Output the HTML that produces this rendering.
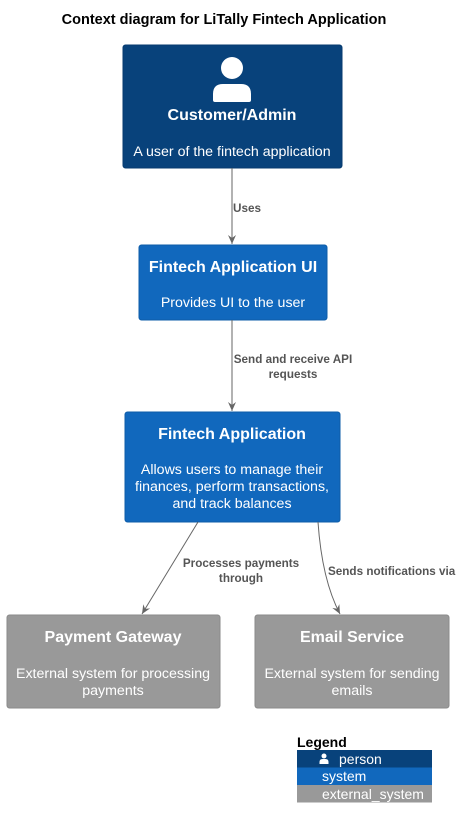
<!DOCTYPE html>
<html><head><meta charset="utf-8"><style>
html,body{margin:0;padding:0;background:#fff;}
svg{display:block;font-family:"Liberation Sans",Arial,sans-serif;}
</style></head><body>
<svg width="462" height="829" viewBox="0 0 462 829" xmlns="http://www.w3.org/2000/svg">
<defs><marker id="a" markerWidth="10" markerHeight="10" refX="9" refY="5" orient="auto" markerUnits="userSpaceOnUse"><path d="M0,1 L9,5 L0,9 L3,5 Z" fill="#666"/></marker></defs>
<text x="224" y="24" text-anchor="middle" font-size="14.5" font-weight="bold">Context diagram for LiTally Fintech Application</text>

<rect x="123" y="45" width="219" height="123" rx="2.5" fill="#08427B" stroke="#073B6F"/>
<circle cx="232" cy="68" r="11" fill="#fff"/>
<path d="M213,100 v-6 q0,-10 10,-10 h18 q10,0 10,10 v6 q0,2 -2,2 h-34 q-2,0 -2,-2z" fill="#fff"/>
<text x="232" y="120" text-anchor="middle" font-size="16" font-weight="bold" fill="#fff">Customer/Admin</text>
<text x="232" y="156" text-anchor="middle" font-size="14.2" fill="#fff">A user of the fintech application</text>

<line x1="232" y1="168" x2="232" y2="244" stroke="#666" marker-end="url(#a)"/>
<text x="233" y="212" font-size="11.7" font-weight="bold" fill="#555">Uses</text>

<rect x="139" y="245" width="188" height="75" rx="2.5" fill="#1168BD" stroke="#0E5CA8"/>
<text x="233" y="272" text-anchor="middle" font-size="16" font-weight="bold" fill="#fff">Fintech Application UI</text>
<text x="233" y="307" text-anchor="middle" font-size="14.2" fill="#fff">Provides UI to the user</text>

<line x1="232" y1="320" x2="232" y2="411" stroke="#666" marker-end="url(#a)"/>
<text x="293" y="363" text-anchor="middle" font-size="11.7" font-weight="bold" fill="#555">Send and receive API</text>
<text x="293" y="378" text-anchor="middle" font-size="11.7" font-weight="bold" fill="#555">requests</text>

<rect x="125" y="412" width="215" height="110" rx="2.5" fill="#1168BD" stroke="#0E5CA8"/>
<text x="232" y="439" text-anchor="middle" font-size="16" font-weight="bold" fill="#fff">Fintech Application</text>
<text x="232" y="474" text-anchor="middle" font-size="14.2" fill="#fff">Allows users to manage their</text>
<text x="232" y="491" text-anchor="middle" font-size="14.2" fill="#fff">finances, perform transactions,</text>
<text x="232" y="508" text-anchor="middle" font-size="14.2" fill="#fff">and track balances</text>

<path d="M198,522 L142,614" fill="none" stroke="#666" marker-end="url(#a)"/>
<text x="241" y="567" text-anchor="middle" font-size="11.7" font-weight="bold" fill="#555">Processes payments</text>
<text x="241" y="582" text-anchor="middle" font-size="11.7" font-weight="bold" fill="#555">through</text>
<path d="M318,522 Q322,580 340,614" fill="none" stroke="#666" marker-end="url(#a)"/>
<text x="328" y="575" font-size="11.7" font-weight="bold" fill="#555">Sends notifications via</text>

<rect x="7" y="615" width="213" height="93" rx="2.5" fill="#999" stroke="#8A8A8A"/>
<text x="113" y="642" text-anchor="middle" font-size="16" font-weight="bold" fill="#fff">Payment Gateway</text>
<text x="113" y="678" text-anchor="middle" font-size="14.2" fill="#fff">External system for processing</text>
<text x="113" y="695" text-anchor="middle" font-size="14.2" fill="#fff">payments</text>

<rect x="255" y="615" width="194" height="93" rx="2.5" fill="#999" stroke="#8A8A8A"/>
<text x="352" y="642" text-anchor="middle" font-size="16" font-weight="bold" fill="#fff">Email Service</text>
<text x="352" y="678" text-anchor="middle" font-size="14.2" fill="#fff">External system for sending</text>
<text x="352" y="695" text-anchor="middle" font-size="14.2" fill="#fff">emails</text>

<text x="297" y="747" font-size="14" font-weight="bold">Legend</text>
<rect x="297" y="750" width="135" height="17.5" fill="#08427B"/>
<rect x="297" y="767.5" width="135" height="17.5" fill="#1168BD"/>
<rect x="297" y="785" width="135" height="17.5" fill="#999"/>
<circle cx="324" cy="756" r="2.5" fill="#fff"/>
<path d="M319.5,764 v-2 q0,-3 3,-3 h3 q3,0 3,3 v2z" fill="#fff"/>
<text x="339" y="764" font-size="14" fill="#fff">person</text>
<text x="322" y="781" font-size="14" fill="#fff">system</text>
<text x="322" y="799" font-size="14" fill="#fff">external_system</text>
</svg>
</body></html>
